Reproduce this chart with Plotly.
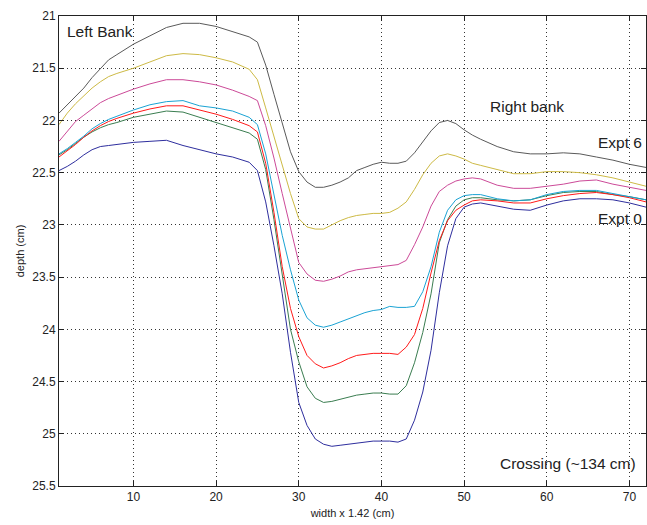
import plotly.graph_objects as go

# Cross-section sample positions (width x 1.42, cm)
width = [1, 2, 3, 4, 5, 6, 7, 8, 10, 12, 14, 16, 18, 20, 22, 24,
         25, 26, 27, 28, 29, 30, 31, 32, 33, 34, 35, 36, 37, 38, 39, 40,
         41, 42, 43, 44, 45, 46, 47, 48, 49, 50, 51, 52,
         54, 56, 58, 60, 62, 64, 66, 68, 70, 72]

# Bed depth (cm) for each experiment
expt0 = [22.48, 22.44, 22.39, 22.33, 22.28, 22.25, 22.24, 22.23, 22.21, 22.20, 22.19, 22.24, 22.28, 22.32, 22.35, 22.40,
         22.48, 22.78, 23.20, 23.66, 24.22, 24.70, 24.92, 25.05, 25.10, 25.12, 25.11, 25.10, 25.09, 25.08, 25.07, 25.07,
         25.07, 25.08, 25.05, 24.87, 24.60, 24.20, 23.65, 23.20, 22.94, 22.83, 22.80, 22.79,
         22.82, 22.85, 22.86, 22.81, 22.77, 22.75, 22.75, 22.76, 22.79, 22.83]
expt1 = [22.33, 22.28, 22.22, 22.16, 22.11, 22.07, 22.04, 22.02, 21.97, 21.94, 21.91, 21.92, 21.97, 22.02, 22.07, 22.12,
         22.18, 22.47, 22.95, 23.50, 24.00, 24.31, 24.55, 24.66, 24.70, 24.69, 24.67, 24.65, 24.63, 24.62, 24.61, 24.61,
         24.62, 24.62, 24.54, 24.32, 24.03, 23.66, 23.17, 22.95, 22.82, 22.76, 22.74, 22.74,
         22.76, 22.77, 22.76, 22.72, 22.69, 22.68, 22.68, 22.71, 22.73, 22.76]
expt2 = [22.35, 22.29, 22.23, 22.16, 22.10, 22.05, 22.01, 21.98, 21.93, 21.89, 21.86, 21.86, 21.90, 21.94, 21.99, 22.05,
         22.11, 22.41, 22.88, 23.40, 23.80, 24.07, 24.25, 24.33, 24.37, 24.35, 24.32, 24.28, 24.25, 24.24, 24.23, 24.23,
         24.23, 24.24, 24.17, 24.05, 23.80, 23.46, 23.15, 22.96, 22.86, 22.81, 22.77, 22.76,
         22.77, 22.79, 22.79, 22.75, 22.72, 22.70, 22.69, 22.71, 22.74, 22.78]
expt3 = [22.32, 22.27, 22.21, 22.15, 22.08, 22.03, 21.99, 21.96, 21.90, 21.85, 21.82, 21.81, 21.86, 21.88, 21.91, 21.97,
         22.04, 22.32, 22.70, 23.10, 23.43, 23.72, 23.89, 23.96, 23.98, 23.96, 23.93, 23.90, 23.87, 23.84, 23.82, 23.81,
         23.78, 23.79, 23.79, 23.78, 23.64, 23.40, 23.07, 22.86, 22.76, 22.72, 22.71, 22.71,
         22.75, 22.77, 22.76, 22.71, 22.68, 22.67, 22.67, 22.70, 22.73, 22.76]
expt4 = [22.20, 22.10, 22.01, 21.95, 21.89, 21.83, 21.79, 21.76, 21.70, 21.65, 21.61, 21.61, 21.63, 21.66, 21.71, 21.77,
         21.81, 22.05, 22.36, 22.70, 23.04, 23.36, 23.47, 23.53, 23.54, 23.52, 23.49, 23.45, 23.43, 23.42, 23.41, 23.40,
         23.39, 23.38, 23.34, 23.19, 23.02, 22.82, 22.68, 22.62, 22.58, 22.56, 22.55, 22.56,
         22.62, 22.65, 22.65, 22.63, 22.61, 22.58, 22.57, 22.61, 22.64, 22.67]
expt5 = [22.04, 21.93, 21.84, 21.76, 21.69, 21.63, 21.58, 21.55, 21.50, 21.44, 21.38, 21.36, 21.37, 21.40, 21.44, 21.51,
         21.61, 21.88, 22.15, 22.42, 22.70, 22.94, 23.02, 23.04, 23.04, 23.00, 22.96, 22.93, 22.91, 22.90, 22.89, 22.89,
         22.88, 22.84, 22.78, 22.66, 22.52, 22.41, 22.34, 22.32, 22.34, 22.37, 22.41, 22.43,
         22.47, 22.51, 22.51, 22.49, 22.49, 22.50, 22.52, 22.55, 22.59, 22.63]
expt6 = [21.93, 21.85, 21.78, 21.69, 21.59, 21.50, 21.42, 21.37, 21.27, 21.19, 21.11, 21.07, 21.07, 21.10, 21.15, 21.20,
         21.25, 21.47, 21.75, 22.02, 22.30, 22.49, 22.59, 22.64, 22.64, 22.62, 22.59, 22.55, 22.48, 22.45, 22.42, 22.40,
         22.41, 22.41, 22.39, 22.31, 22.21, 22.10, 22.02, 22.00, 22.03, 22.09, 22.14, 22.18,
         22.25, 22.30, 22.32, 22.32, 22.31, 22.32, 22.35, 22.38, 22.42, 22.45]

series_names = ["Expt 0", "Expt 1", "Expt 2", "Expt 3", "Expt 4", "Expt 5", "Expt 6"]
series_values = [expt0, expt1, expt2, expt3, expt4, expt5, expt6]
series_colors = ["#2E2E9E", "#3A7D50", "#FF1A1A", "#1AA3D4", "#CC4A98", "#CDBA45", "#5A5A5A"]

y_ticks = [21, 21.5, 22, 22.5, 23, 23.5, 24, 24.5, 25, 25.5]
y_tick_labels = ["21", "21.5", "22", "22.5", "23", "23.5", "24", "24.5", "25", "25.5"]
x_ticks = [10, 20, 30, 40, 50, 60, 70]

FONT = "Liberation Sans, Arial, Helvetica, sans-serif"

fig = go.Figure()
for name, vals, col in zip(series_names, series_values, series_colors):
    fig.add_trace(go.Scatter(x=width, y=vals, mode="lines", name=name,
                             line=dict(color=col, width=1)))

axis_common = dict(
    showline=True, linecolor="#222", linewidth=1, mirror="ticks",
    ticks="inside", ticklen=5, tickcolor="#222", tickwidth=1,
    showgrid=True, gridcolor="#333", gridwidth=1, griddash="1px,3px",
    zeroline=False,
    tickfont=dict(family=FONT, size=12, color="#222"),
)

fig.update_xaxes(range=[1, 72], tickvals=x_ticks, **axis_common,
                 title=dict(text="width x 1.42 (cm)", standoff=5,
                            font=dict(family=FONT, size=11, color="#222")))
fig.update_yaxes(range=[25.5, 21], tickvals=y_ticks, ticktext=y_tick_labels, **axis_common,
                 title=dict(text="depth (cm)", standoff=5,
                            font=dict(family=FONT, size=11, color="#222")))

labels = [
    ("Left Bank", 1.75, 21.15),
    ("Right bank", 52.9, 21.87),
    ("Expt 6", 66.0, 22.21),
    ("Expt 0", 66.0, 22.94),
    ("Crossing (~134 cm)", 54.1, 25.28),
]
for txt, x, y in labels:
    fig.add_annotation(x=x, y=y, xref="x", yref="y", text=txt, showarrow=False,
                       xanchor="left", yanchor="middle",
                       font=dict(family=FONT, size=15.5, color="#222"))

fig.update_layout(
    width=647, height=525,
    margin=dict(l=59, r=1, t=16, b=39),
    paper_bgcolor="white", plot_bgcolor="white",
    showlegend=False,
)

fig.write_html("out.html")
